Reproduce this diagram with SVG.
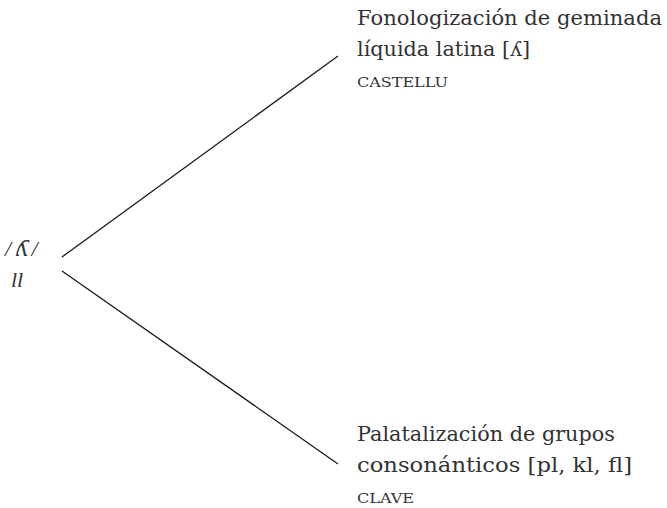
<svg xmlns="http://www.w3.org/2000/svg" width="667" height="508" viewBox="0 0 667 508">
<style>
.t{font-family:"DejaVu Serif","Liberation Serif",serif;font-size:20.5px;fill:#333}
.sc{font-family:"DejaVu Serif","Liberation Serif",serif;font-size:12.5px;fill:#333}
.it{font-family:"Liberation Serif","DejaVu Serif",serif;font-style:italic;font-size:22px;fill:#333}
.ipa{font-family:"DejaVu Serif",serif;font-size:22px}
.ln{stroke:#1a1a1a;stroke-width:1.3;fill:none}
</style>
<rect width="667" height="508" fill="#fff"/>
<g id="connectors">
<line class="ln" x1="62" y1="257" x2="338" y2="56"/>
<line class="ln" x1="62" y1="271" x2="338" y2="464"/>
</g>
<g id="root">
<text class="it" x="5" y="256">/<tspan class="ipa" dx="5">ʎ</tspan><tspan dx="3">/</tspan></text>
<text class="it" x="11" y="287">ll</text>
</g>
<g id="top">
<text class="t" x="357" y="25" textLength="305" lengthAdjust="spacingAndGlyphs">Fonologización de geminada</text>
<text class="t" x="357" y="56" textLength="173" lengthAdjust="spacingAndGlyphs">líquida latina [ʎ]</text>
<text class="sc" x="357" y="87" textLength="91" lengthAdjust="spacingAndGlyphs">CASTELLU</text>
</g>
<g id="bottom">
<text class="t" x="357" y="441" textLength="258" lengthAdjust="spacingAndGlyphs">Palatalización de grupos</text>
<text class="t" x="357" y="472" textLength="275" lengthAdjust="spacingAndGlyphs">consonánticos [pl, kl, fl]</text>
<text class="sc" x="357" y="503" textLength="57" lengthAdjust="spacingAndGlyphs">CLAVE</text>
</g>
</svg>
